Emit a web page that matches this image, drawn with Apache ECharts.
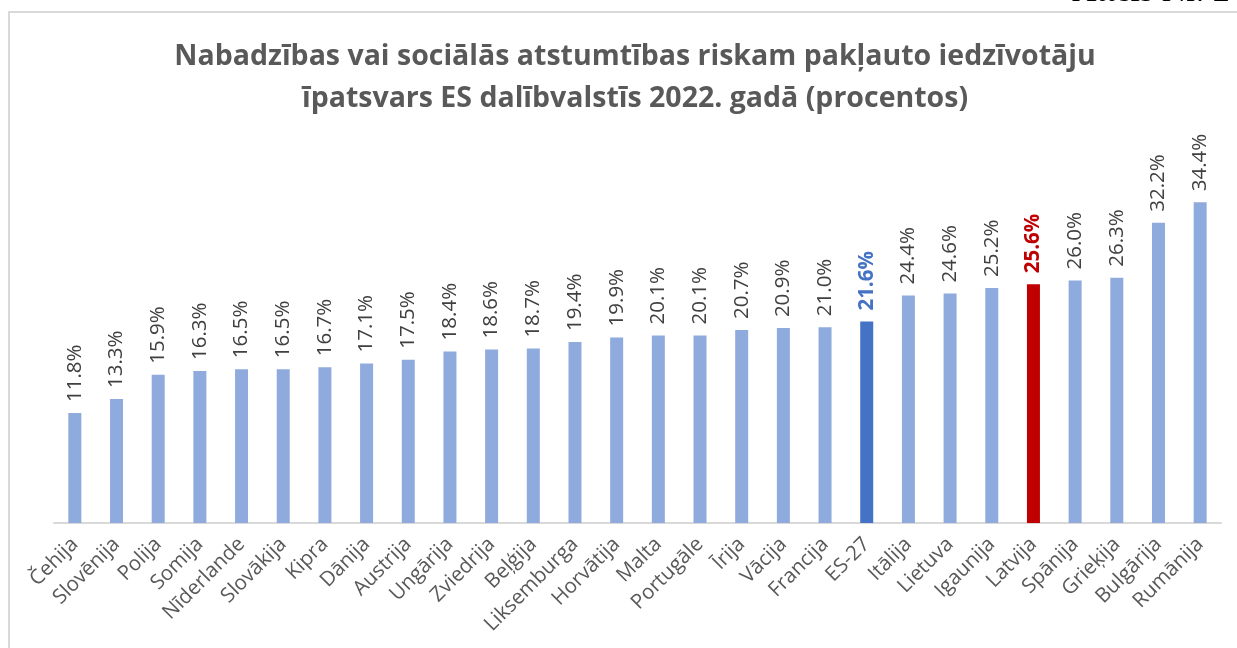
<!DOCTYPE html>
<html>
<head>
<meta charset="utf-8">
<script src="https://cdn.jsdelivr.net/npm/echarts@6/dist/echarts.min.js"></script>
<style>
  html, body { margin: 0; padding: 0; background: #fff; }
  #chart { width: 1237px; height: 648px; }
</style>
</head>
<body>
<div id="chart"></div>
<script>
// valstis un rādītāji (%)
const countries = ['Čehija', 'Slovēnija', 'Polija', 'Somija', 'Nīderlande', 'Slovākija', 'Kipra', 'Dānija',
  'Austrija', 'Ungārija', 'Zviedrija', 'Beļģija', 'Liksemburga', 'Horvātija', 'Malta', 'Portugāle',
  'Īrija', 'Vācija', 'Francija', 'ES-27', 'Itālija', 'Lietuva', 'Igaunija', 'Latvija', 'Spānija',
  'Grieķija', 'Bulgārija', 'Rumānija']
const values = [11.8, 13.3, 15.9, 16.3, 16.5, 16.5, 16.7, 17.1, 17.5, 18.4, 18.6, 18.7, 19.4, 19.9,
  20.1, 20.1, 20.7, 20.9, 21.0, 21.6, 24.4, 24.6, 25.2, 25.6, 26.0, 26.3, 32.2, 34.4]

// izceltās kolonnas
const highlight = {
  'ES-27': '#4472C4',
  'Latvija': '#C00000'
}
const baseColor = '#8FAADC'

const chart = echarts.init(document.getElementById('chart'))

const option = {
  animation: false,
  backgroundColor: '#fff',
  title: {
    text: 'Nabadzības vai sociālās atstumtības riskam pakļauto iedzīvotāju\nīpatsvars ES dalībvalstīs 2022. gadā (procentos)',
    left: 630,
    textAlign: 'center',
    top: 31,
    textStyle: {
      fontFamily: 'Open Sans',
      fontWeight: 'bold',
      fontSize: 28.5,
      color: '#595959',
      lineHeight: 42
    }
  },
  grid: {
    left: 54,
    right: 16,
    top: 150,
    bottom: 125,
    containLabel: false
  },
  xAxis: {
    type: 'category',
    data: countries,
    axisLine: { lineStyle: { color: '#D9D9D9', width: 2 } },
    axisTick: { show: false },
    axisLabel: {
      interval: 0,
      rotate: 45,
      margin: 18,
      fontFamily: 'Open Sans',
      fontSize: 20.5,
      color: '#595959'
    }
  },
  yAxis: {
    type: 'value',
    min: 0,
    max: 40,
    show: false
  },
  series: [
    {
      type: 'bar',
      barWidth: 13,
      data: values.map((v, i) => {
        const c = highlight[countries[i]]
        return {
          value: v,
          itemStyle: { color: c || baseColor },
          label: c ? { color: c, fontWeight: 'bold' } : undefined
        }
      }),
      label: {
        show: true,
        position: 'top',
        rotate: 90,
        align: 'left',
        verticalAlign: 'middle',
        distance: 11,
        formatter: p => p.value.toFixed(1) + '%',
        fontFamily: 'Open Sans',
        fontSize: 20.5,
        color: '#404040'
      }
    }
  ],
  graphic: [
    {
      type: 'rect',
      shape: { x: 9, y: 12, width: 1300, height: 700 },
      style: { fill: 'none', stroke: '#D9D9D9', lineWidth: 2 },
      silent: true
    },
    {
      type: 'text',
      style: {
        x: 1072,
        y: 9,
        verticalAlign: 'bottom',
        text: 'Attēls Nr. 2',
        font: '34px "Liberation Serif"',
        fill: '#000'
      },
      silent: true
    }
  ]
}

chart.setOption(option)
</script>
</body>
</html>
